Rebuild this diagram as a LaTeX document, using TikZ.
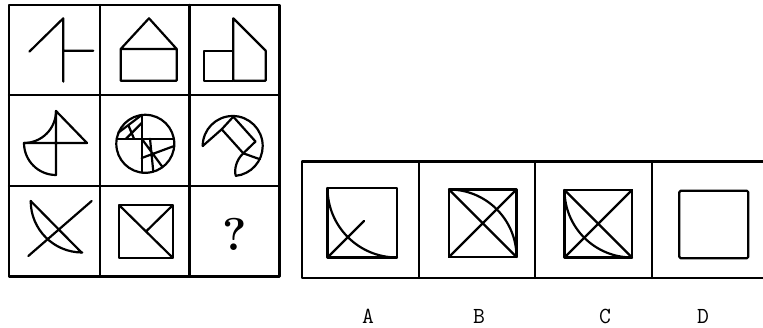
\documentclass[tikz,border=0pt]{standalone}
\begin{document}
\begin{tikzpicture}[x=1pt,y=1pt,yscale=-1,
  frame/.style={line width=2.4pt, line cap=round, line join=round},
  fig/.style={line width=2.2pt, line cap=round, line join=round},
  lab/.style={font=\ttfamily\fontsize{23}{23}\selectfont, inner sep=1pt},
  qmark/.style={font=\bfseries\fontsize{46}{46}\selectfont, inner sep=0pt}]
\useasboundingbox (0,0) rectangle (763,328);
% ---------- 3x3 grid ----------
\draw[frame] (9,5) rectangle (279.5,276.5);
\draw[frame] (100,5) -- (100,276.5) (189.5,5) -- (189.5,276.5)
             (9,95) -- (279.5,95) (9,186) -- (279.5,186);
% row 1
\draw[fig] (29.3,51.7) -- (63.3,18.3) -- (63.3,81.7) (63.3,50.7) -- (93.3,50.7);
\draw[fig] (120.7,80.7) -- (120.7,49) -- (149,18.3) -- (176.7,49) -- (176.7,80.7) -- cycle
           (120.7,49) -- (176.7,49);
\draw[fig] (204,50.7) rectangle (233.3,80.7);
\draw[fig] (233.3,80.7) -- (233.3,18.3) -- (265.7,50.7) -- (265.7,80.7) -- (233.3,80.7);
% row 2, cell 1
\draw[fig] (56,111) -- (56,175) (24,143) -- (87,143) (56,111) -- (87,143);
\draw[fig] (56,111) arc[start angle=0, end angle=90, radius=32];
\draw[fig] (24,143) arc[start angle=180, end angle=90, radius=32];
% row 2, cell 2
\draw[fig] (145.3,143.8) circle[radius=29];
\draw[fig] (141.7,115) -- (141.7,172.6) (116.8,138.7) -- (173.8,138.7);
\draw[fig] (141.7,115) -- (118.3,132.7) (141.7,123) -- (126,138.7) (128.5,125.5) -- (134,138.7);
\draw[fig] (141.7,138.7) -- (162.5,167) (174.2,146) -- (141.7,158) (150,138.7) -- (153.3,171.7);
% row 2, cell 3
\draw[fig] (202.7,146) arc[start angle=180, end angle=444, radius=30];
\draw[fig] (202.7,146) -- (221.7,129.3) -- (233.3,116.7) -- (255.5,141.5) -- (243.3,153.3) -- (221.7,129.3);
\draw[fig] (243.3,153.3) .. controls (236,160) and (234,170) .. (235.8,175.8);
\draw[fig] (243.3,153.3) -- (260,159.3);
% row 3, cell 1
\draw[fig] (30.7,201) -- (81.7,252.7) (28.3,256) -- (91.7,201);
\draw[fig] (30.7,201) arc[start angle=180, end angle=90, radius=51.5];
% row 3, cell 2
\draw[fig] (119.3,205.3) rectangle (172.7,257.7);
\draw[fig] (119.3,205.3) -- (172.7,257.7) (172.7,205.3) -- (146,231.5);
% row 3, cell 3
\node[qmark] (q) at (234.5,234) {?};
% ---------- answer strip ----------
\draw[frame] (764,161.5) -- (302,161.5) -- (302,278) -- (764,278);
\draw[frame] (419,161.5) -- (419,278) (535,161.5) -- (535,278) (652,161.5) -- (652,278);
% A
\draw[fig] (327.5,188) rectangle (397,257.5);
\draw[fig] (327.5,188) arc[start angle=180, end angle=90, radius=69.5];
\draw[fig] (327.5,257.5) -- (364,221);
% B
\draw[fig] (449,189.5) rectangle (516.5,257);
\draw[fig] (449,189.5) -- (516.5,257) (449,257) -- (516.5,189.5);
\draw[fig] (449,189.5) arc[start angle=270, end angle=360, radius=67.5];
% C
\draw[fig] (564.5,190) rectangle (632,257.5);
\draw[fig] (564.5,190) -- (632,257.5) (564.5,257.5) -- (632,190);
\draw[fig] (564.5,190) arc[start angle=180, end angle=90, radius=67.5];
% D
\draw[fig, rounded corners=1.5pt] (679.3,190.7) rectangle (748.3,258.3);
% labels
\node[lab] (la) at (368,316) {A};
\node[lab] (lb) at (479,316) {B};
\node[lab] (lc) at (605,316) {C};
\node[lab] (ld) at (703,316) {D};
\end{tikzpicture}
\end{document}
